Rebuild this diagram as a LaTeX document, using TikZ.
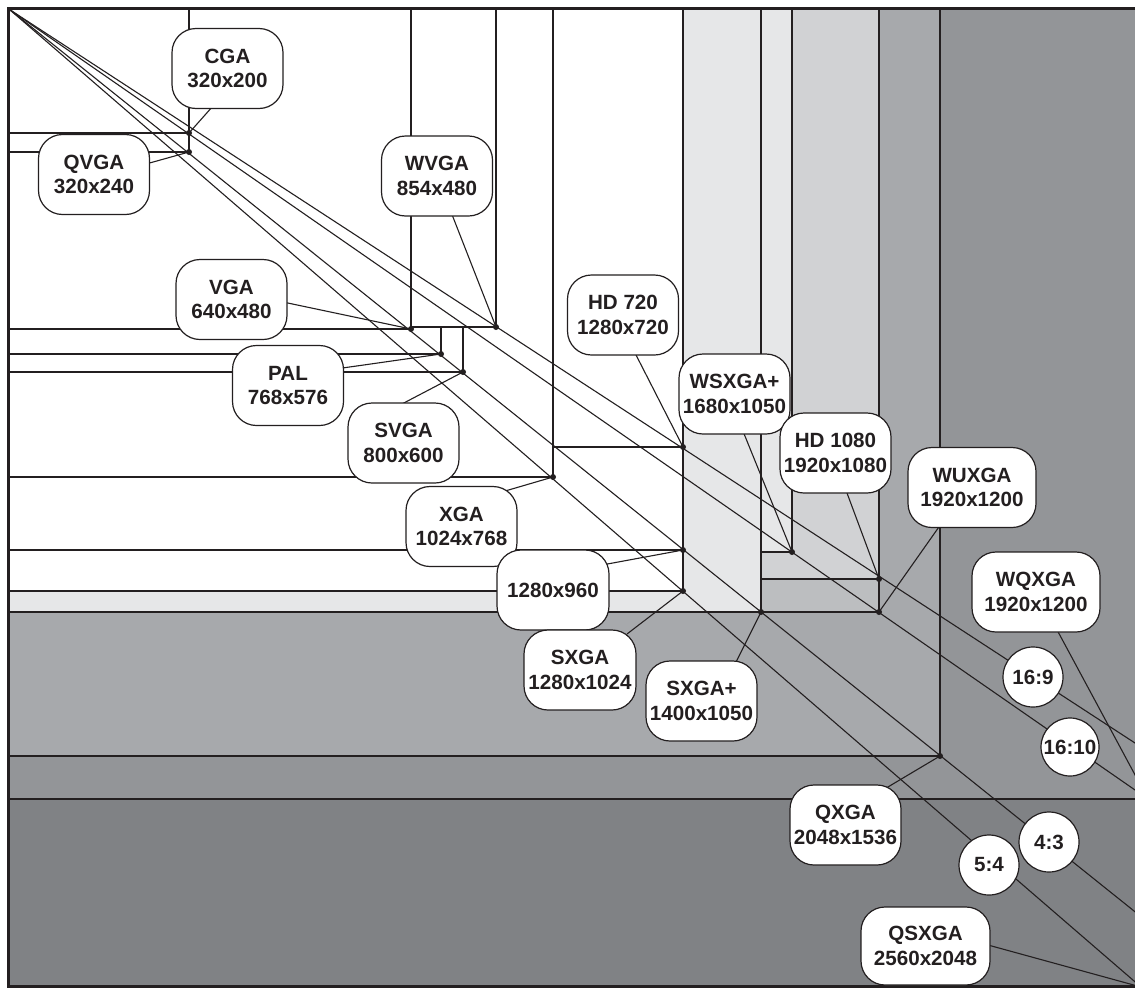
\documentclass[tikz,border=0pt]{standalone}
\usepackage{fontspec}
\setmainfont{Liberation Sans}
\pgfdeclarelayer{front}
\pgfsetlayers{main,front}
\definecolor{ink}{HTML}{231F20}
\definecolor{g1}{HTML}{E6E7E8}
\definecolor{g2}{HTML}{D1D2D4}
\definecolor{g3}{HTML}{BCBEC0}
\definecolor{g4}{HTML}{A7A9AC}
\definecolor{g5}{HTML}{939598}
\definecolor{g6}{HTML}{808285}
\begin{document}
\begin{tikzpicture}[x=1pt,y=-1pt,
  area/.style={draw=ink, line width=1.3pt},
  ray/.style={draw=ink, line width=1.1pt},
  lead/.style={draw=ink, line width=1.1pt},
  tag/.style={draw=ink, fill=white, line width=1.2pt, rounded corners=24pt,
    minimum width=111pt, minimum height=80pt, inner sep=0pt, align=center,
    text=ink, font=\bfseries\fontsize{20.6}{24.5}\selectfont},
  ratio/.style={circle, draw=ink, fill=white, line width=1.2pt,
    minimum size=60pt, inner sep=0pt, text=ink,
    font=\bfseries\fontsize{20.6}{24.5}\selectfont}]

\useasboundingbox (0,0) rectangle (1135,988);
\clip (0,0) rectangle (1135,988);
\fill[white] (0,0) rectangle (1135,988);

% common top-left origin of all screen areas
\coordinate (o) at (9.5,9.5);

% bottom-right corners of the screen areas
\coordinate (qsxga-c)  at (1141,987);
\coordinate (wqxga-c)  at (1148,799);
\coordinate (qxga-c)   at (940,756);
\coordinate (wuxga-c)  at (879,612);
\coordinate (hd1080-c) at (879,579);
\coordinate (wsxga-c)  at (792,552);
\coordinate (sxgap-c)  at (761,612);
\coordinate (sxga-c)   at (683,591);
\coordinate (r960-c)   at (683,550);
\coordinate (hd720-c)  at (683,447);
\coordinate (xga-c)    at (553,477);
\coordinate (svga-c)   at (463,372);
\coordinate (pal-c)    at (441,354);
\coordinate (wvga-c)   at (496,327);
\coordinate (vga-c)    at (411,329);
\coordinate (qvga-c)   at (189,152);
\coordinate (cga-c)    at (189,133);

% far ends of the aspect-ratio rays
\coordinate (e169) at (1160,759.3);
\coordinate (e43)  at (1160,931.8);

% screen areas, largest pixel count first
\foreach \c/\f in {qsxga-c/g6, wqxga-c/g5, qxga-c/g4, wuxga-c/g3,
    hd1080-c/g2, wsxga-c/g1, sxgap-c/g1, sxga-c/white, r960-c/white,
    hd720-c/white, xga-c/white, svga-c/white, pal-c/white, wvga-c/white,
    vga-c/white, qvga-c/white, cga-c/white}
  \filldraw[area, fill=\f] (o) rectangle (\c);

% aspect-ratio rays
\draw[ray] (o) -- (e169);
\draw[ray] (o) -- (wqxga-c);
\draw[ray] (o) -- (e43);
\draw[ray] (o) -- (qsxga-c);

% corner dots
\foreach \c in {qxga-c, wuxga-c, hd1080-c, wsxga-c, sxgap-c, sxga-c,
    r960-c, hd720-c, xga-c, svga-c, pal-c, wvga-c, vga-c, qvga-c, cga-c}
  \fill[ink] (\c) circle (3pt);

% outer frame
\draw[ink, line width=2.4pt] (7.8,8.3) rectangle (1170,986.5);

% name tags and ratio badges
\begin{pgfonlayer}{front}
\node[tag] (cga)    at (227.5,68.5)  {CGA\\320x200};
\node[tag] (qvga)   at (94,174.5)    {QVGA\\320x240};
\node[tag] (vga)    at (231.5,299.5) {VGA\\640x480};
\node[tag] (wvga)   at (437,176)     {WVGA\\854x480};
\node[tag] (pal)    at (288,385.5)   {PAL\\768x576};
\node[tag] (svga)   at (403.5,443)   {SVGA\\800x600};
\node[tag] (xga)    at (461.5,526.5) {XGA\\1024x768};
\node[tag] (hd720)  at (623,315)     {HD 720\\1280x720};
\node[tag, minimum width=112pt] (r960) at (553,590) {1280x960};
\node[tag, minimum width=112pt] (sxga) at (580,670) {SXGA\\1280x1024};
\node[tag] (sxgap)  at (701.5,701)   {SXGA+\\1400x1050};
\node[tag] (wsxga)  at (734.5,394)   {WSXGA+\\1680x1050};
\node[tag] (hd1080) at (835.5,453)   {HD 1080\\1920x1080};
\node[tag, minimum width=128pt] (wuxga) at (972,487.5) {WUXGA\\1920x1200};
\node[tag, minimum width=128pt] (wqxga) at (1036,592)  {WQXGA\\1920x1200};
\node[tag] (qxga)   at (845.5,825)   {QXGA\\2048x1536};
\node[tag, minimum width=129pt, minimum height=78pt] (qsxga) at (925.5,946) {QSXGA\\2560x2048};

\node[ratio] (r169) at (1033,677) {16:9};
\node[ratio, minimum size=58pt] (r1610) at (1070,747) {16:10};
\node[ratio] (r43)  at (1049,842) {4:3};
\node[ratio] (r54)  at (989,865)  {5:4};
\end{pgfonlayer}

% leaders from the tags to their corners
\draw[lead] ([shift={(-14.5,37.5)}]cga.center)   -- (cga-c);
\draw[lead] ([shift={(52,-10.5)}]qvga.center)    -- (qvga-c);
\draw[lead] ([shift={(51.5,2.5)}]vga.center)     -- (vga-c);
\draw[lead] ([shift={(14,36)}]wvga.center)       -- (wvga-c);
\draw[lead] ([shift={(51,-17)}]pal.center)       -- (pal-c);
\draw[lead] ([shift={(-3.5,-38)}]svga.center)    -- (svga-c);
\draw[lead] ([shift={(38.5,-34)}]xga.center)     -- (xga-c);
\draw[lead] ([shift={(11,36)}]hd720.center)      -- (hd720-c);
\draw[lead] ([shift={(49,-25)}]r960.center)      -- (r960-c);
\draw[lead] ([shift={(47,-36)}]sxga.center)      -- (sxga-c);
\draw[lead] ([shift={(32.5,-35)}]sxgap.center)   -- (sxgap-c);
\draw[lead] ([shift={(8,36)}]wsxga.center)       -- (wsxga-c);
\draw[lead] ([shift={(10,36)}]hd1080.center)     -- (hd1080-c);
\draw[lead] ([shift={(-31,36.5)}]wuxga.center)   -- (wuxga-c);
\draw[lead] ([shift={(20,36)}]wqxga.center)      -- (wqxga-c);
\draw[lead] ([shift={(36.5,-34.5)}]qxga.center)  -- (qxga-c);
\draw[lead] ([shift={(62.5,-1)}]qsxga.center)    -- (qsxga-c);
\end{tikzpicture}
\end{document}
